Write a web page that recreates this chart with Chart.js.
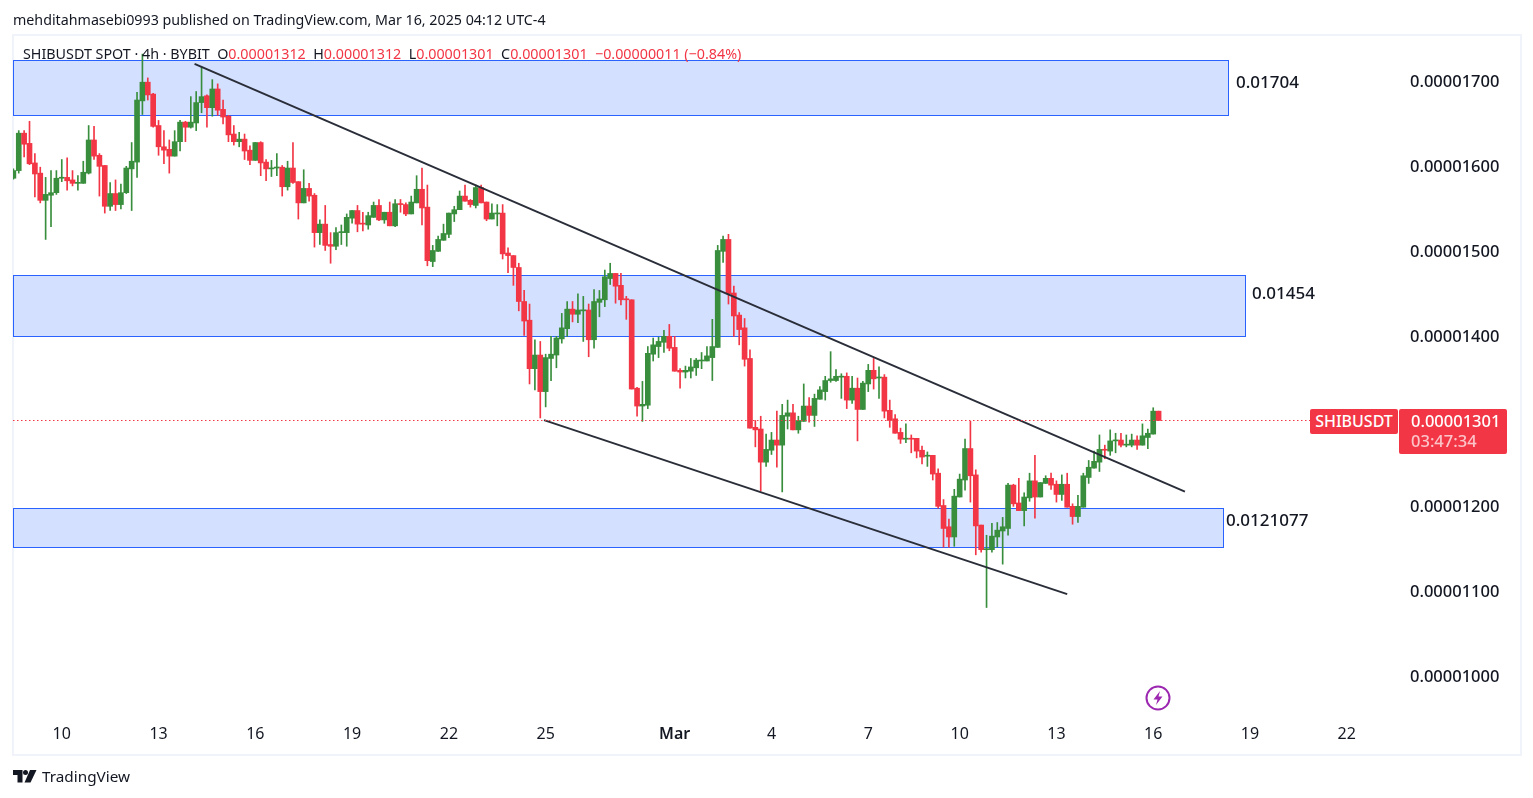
<!DOCTYPE html>
<html>
<head>
<meta charset="utf-8">
<title>SHIBUSDT 4h</title>
<script src="https://cdn.jsdelivr.net/npm/chart.js@4"></script>
<style>
body { margin: 0; background: #fff; font-family: "Noto Sans", sans-serif; color: #131722; }
#wrap { position: relative; width: 1533px; height: 798px; overflow: hidden; }
#frame { position: absolute; left: 12px; top: 34px; width: 1506px; height: 718px; border: 2px solid #f0f3fa; }
canvas { position: absolute; left: 0; top: 0; }
.t { position: absolute; white-space: pre; }
.r { color: #f23645; }
.tag { position: absolute; background: #f23645; color: #fff; border-radius: 2px; text-align: center; font-weight: 500; }
</style>
</head>
<body>
<div id="wrap">
  <div id="frame"></div>
  <canvas id="chart" width="1533" height="798"></canvas>
  <div class="t" style="left:13px;top:10px;font-size:14.25px;line-height:19px">mehditahmasebi0993 published on TradingView.com, Mar 16, 2025 04:12 UTC-4</div>
  <div class="t" style="left:23px;top:44px;font-size:14.3px;line-height:19px">SHIBUSDT SPOT · 4h · BYBIT  O<span class="r">0.00001312</span>  H<span class="r">0.00001312</span>  L<span class="r">0.00001301</span>  C<span class="r">0.00001301</span>  <span class="r">−0.00000011 (−0.84%)</span></div>
  <div class="t" style="left:1236px;top:71px;font-size:17px;line-height:22px;font-weight:500">0.01704</div>
  <div class="t" style="left:1252px;top:282px;font-size:17px;line-height:22px;font-weight:500">0.01454</div>
  <div class="t" style="left:1226px;top:509px;font-size:17px;line-height:22px;font-weight:500">0.0121077</div>
  <div class="tag" style="left:1310px;top:409px;width:88px;height:25px;line-height:25px;font-size:16px">SHIBUSDT</div>
  <div class="tag" style="left:1399px;top:409px;width:108px;height:45px;font-size:16.5px;line-height:20px;padding:2px 0 0 12px;box-sizing:border-box;text-align:left">0.00001301<br><span style="color:#fbc4c9">03:47:34</span></div>
  <svg style="position:absolute;left:1145px;top:685px" width="26" height="26" viewBox="0 0 26 26">
    <circle cx="13" cy="13" r="11.5" fill="#fff" stroke="#9c27b0" stroke-width="2"/>
    <path d="M15 6 L8.5 14.5 H12.5 L11 20 L17.5 11.5 H13.5 Z" fill="#9c27b0"/>
  </svg>
  <svg style="position:absolute;left:13px;top:770px" width="24" height="13" viewBox="0 0 24 13">
    <path d="M0 0 H9.5 V12.5 H4.5 V5 H0 Z" fill="#131722"/>
    <circle cx="12.5" cy="2.6" r="2.5" fill="#131722"/>
    <path d="M17 0 H23.5 L17.5 12.5 H11.5 Z" fill="#131722"/>
  </svg>
  <div class="t" style="left:42px;top:766px;font-size:15.3px;line-height:21px">TradingView</div>
</div>
<script>
// prices in units of 0.00000001
const opens = [
  1586,1595,1639,1627,1604,1592,1560,1566,1569,1586,
  1587,1584,1580,1580,1592,1631,1613,1601,1553,1568,
  1555,1569,1597,1605,1677,1699,1685,1648,1623,1620,
  1612,1629,1652,1646,1651,1675,1683,1669,1691,1667,
  1659,1638,1629,1632,1619,1607,1628,1605,1597,1598,
  1599,1576,1598,1582,1557,1574,1566,1522,1532,1508,
  1506,1522,1522,1539,1548,1533,1531,1540,1554,1537,
  1546,1530,1556,1555,1544,1557,1573,1552,1488,1500,
  1513,1520,1544,1549,1565,1560,1554,1575,1558,1538,
  1544,1545,1498,1495,1481,1441,1419,1362,1378,1335,
  1374,1378,1397,1409,1432,1426,1430,1431,1396,1440,
  1443,1468,1474,1460,1444,1443,1339,1318,1319,1379,
  1388,1393,1400,1387,1360,1358,1359,1363,1371,1371,
  1375,1387,1500,1514,1451,1425,1410,1374,1293,1291,
  1252,1266,1278,1272,1306,1310,1290,1300,1318,1307,
  1326,1335,1348,1348,1352,1353,1325,1339,1314,1344,
  1360,1351,1352,1313,1303,1287,1279,1280,1280,1266,
  1259,1260,1239,1201,1176,1164,1211,1231,1268,1237,
  1178,1149,1149,1164,1171,1174,1225,1204,1195,1210,
  1230,1211,1227,1233,1226,1214,1226,1200,1188,1199,
  1234,1245,1252,1267,1265,1277,1278,1272,1272,1278,
  1272,1281,1285,1312
];
const highs = [
  1597,1642,1642,1653,1615,1599,1587,1595,1595,1608,
  1610,1595,1589,1606,1648,1647,1615,1601,1581,1584,
  1579,1600,1628,1687,1732,1704,1686,1654,1642,1631,
  1642,1654,1653,1682,1688,1717,1684,1702,1697,1678,
  1660,1648,1640,1638,1624,1628,1629,1608,1607,1615,
  1601,1606,1628,1582,1596,1580,1568,1537,1554,1522,
  1528,1531,1544,1548,1554,1546,1546,1558,1561,1546,
  1558,1561,1561,1557,1565,1589,1598,1578,1507,1518,
  1532,1545,1553,1571,1578,1561,1578,1578,1558,1556,
  1555,1555,1504,1495,1486,1454,1438,1396,1394,1379,
  1400,1400,1427,1441,1441,1450,1447,1438,1455,1454,
  1478,1486,1474,1474,1447,1443,1340,1347,1388,1398,
  1399,1407,1414,1400,1362,1365,1374,1374,1381,1388,
  1420,1507,1518,1520,1459,1428,1421,1384,1301,1306,
  1285,1287,1312,1320,1325,1320,1306,1344,1328,1332,
  1341,1353,1382,1361,1356,1357,1353,1351,1347,1367,
  1374,1364,1355,1325,1308,1292,1297,1284,1280,1271,
  1264,1260,1244,1208,1185,1220,1238,1279,1300,1243,
  1178,1166,1180,1181,1187,1227,1226,1233,1216,1239,
  1260,1228,1236,1239,1230,1237,1239,1203,1213,1239,
  1254,1265,1284,1272,1290,1286,1286,1284,1285,1283,
  1297,1291,1316,1312
];
const lows = [
  1585,1592,1611,1602,1564,1557,1514,1529,1567,1582,
  1572,1577,1572,1580,1591,1608,1565,1545,1548,1548,
  1550,1568,1548,1587,1661,1678,1646,1613,1603,1592,
  1612,1618,1629,1645,1642,1663,1646,1659,1660,1650,
  1629,1625,1623,1608,1602,1607,1589,1583,1588,1589,
  1565,1572,1580,1538,1557,1559,1505,1508,1501,1486,
  1502,1508,1506,1533,1523,1524,1526,1540,1536,1533,
  1530,1529,1546,1542,1544,1557,1531,1483,1482,1500,
  1513,1516,1535,1549,1559,1552,1551,1557,1536,1538,
  1530,1491,1475,1460,1430,1401,1344,1337,1304,1317,
  1348,1363,1392,1400,1417,1416,1394,1376,1386,1423,
  1435,1461,1439,1437,1420,1338,1306,1300,1315,1371,
  1375,1381,1383,1359,1339,1351,1351,1354,1362,1371,
  1348,1387,1487,1438,1400,1390,1365,1292,1270,1218,
  1247,1261,1246,1217,1291,1290,1286,1300,1299,1294,
  1326,1325,1346,1347,1327,1315,1321,1277,1314,1335,
  1338,1327,1304,1293,1286,1274,1275,1263,1257,1250,
  1247,1231,1198,1152,1152,1153,1211,1219,1205,1143,
  1146,1081,1146,1152,1132,1166,1200,1195,1177,1206,
  1186,1211,1227,1220,1205,1207,1199,1179,1181,1199,
  1227,1245,1241,1256,1260,1263,1270,1270,1270,1267,
  1272,1268,1285,1301
];
const closes = [
  1595,1639,1626,1603,1591,1560,1567,1569,1586,1587,
  1583,1580,1581,1593,1631,1612,1600,1553,1568,1555,
  1569,1598,1606,1678,1699,1684,1647,1623,1619,1612,
  1629,1652,1646,1652,1675,1682,1669,1691,1666,1658,
  1637,1629,1632,1618,1607,1628,1604,1597,1598,1599,
  1576,1598,1581,1557,1574,1565,1522,1532,1507,1506,
  1522,1523,1540,1548,1532,1532,1542,1554,1537,1546,
  1530,1556,1555,1544,1558,1573,1551,1489,1501,1514,
  1521,1545,1549,1565,1559,1555,1575,1557,1538,1545,
  1545,1497,1495,1481,1441,1418,1362,1378,1335,1375,
  1379,1398,1410,1432,1426,1431,1431,1396,1441,1444,
  1470,1474,1459,1443,1443,1338,1318,1320,1380,1390,
  1394,1400,1386,1359,1358,1360,1364,1372,1372,1377,
  1388,1501,1514,1450,1424,1408,1373,1292,1290,1252,
  1267,1278,1272,1307,1310,1290,1301,1318,1307,1327,
  1337,1348,1350,1353,1353,1325,1339,1314,1345,1360,
  1350,1352,1312,1301,1286,1279,1280,1279,1265,1258,
  1260,1238,1200,1174,1164,1212,1232,1268,1236,1177,
  1149,1150,1165,1172,1176,1225,1203,1195,1211,1230,
  1211,1228,1233,1225,1214,1226,1199,1188,1200,1236,
  1246,1253,1267,1266,1277,1278,1272,1273,1278,1272,
  1283,1286,1312,1301
];

const tickIndexes = [9, 27, 45, 63, 81, 99, 123, 141, 159, 176, 194, 212, 230, 248];
const tickLabels = ['10', '13', '16', '19', '22', '25', 'Mar', '4', '7', '10', '13', '16', '19', '22'];
const priceTicks = [1000, 1100, 1200, 1300, 1400, 1500, 1600, 1700];

// support / resistance zones
const zoneEnds = [225.9, 229.0, 225.0];
const zoneTops = [1724.7, 1471.9, 1197.6];
const zoneBottoms = [1660, 1400, 1151.8];

// channel lines
const upperLineX = [33.7, 217.9];
const upperLineY = [1720.6, 1217.3];
const lowerLineX = [98.7, 196];
const lowerLineY = [1301.4, 1096.8];

const lastPrice = 1301;
const lastPriceX = [-0.07, 241.2];

const xMin = -0.07, xMax = 257.9;
const yMin = 952.2, yMax = 1754.5;

const green = '#388e3c', red = '#f23645';
const candleColors = opens.map((o, i) => closes[i] >= o ? green : red);

const zonesPlugin = {
    id: 'zones',
    beforeDatasetsDraw(chart) {
        const { ctx, scales: { x, y } } = chart;
        ctx.save();
        zoneEnds.forEach((end, i) => {
            const left = Math.round(x.getPixelForValue(xMin));
            const right = Math.round(x.getPixelForValue(end));
            const top = Math.round(y.getPixelForValue(zoneTops[i]));
            const bottom = Math.round(y.getPixelForValue(zoneBottoms[i]));
            ctx.fillStyle = 'rgba(41,98,255,0.2)';
            ctx.fillRect(left, top, right - left, bottom - top);
            ctx.strokeStyle = '#2962ff';
            ctx.lineWidth = 1;
            ctx.strokeRect(left + 0.5, top + 0.5, right - left, bottom - top);
        });
        ctx.restore();
    }
};

function line(xs, ys, color, width, dash) {
    return {
        type: 'line',
        data: xs.map((v, i) => ({ x: v, y: ys[i] })),
        borderColor: color,
        borderWidth: width,
        borderDash: dash || [],
        pointRadius: 0,
        order: 0
    };
}

new Chart(document.getElementById('chart'), {
    type: 'bar',
    data: {
        datasets: [
            {
                data: opens.map((o, i) => ({ x: i, y: [lows[i], highs[i]] })),
                backgroundColor: candleColors,
                barThickness: 1,
                grouped: false,
                order: 3
            },
            {
                data: opens.map((o, i) => ({ x: i, y: [o, closes[i]] })),
                backgroundColor: candleColors,
                barThickness: 5,
                minBarLength: 1,
                grouped: false,
                order: 2
            },
            line(lastPriceX, [lastPrice, lastPrice], red, 1, [1.5, 2.5]),
            line(upperLineX, upperLineY, '#2a2e39', 2),
            line(lowerLineX, lowerLineY, '#2a2e39', 2)
        ]
    },
    plugins: [zonesPlugin],
    options: {
        responsive: false,
        animation: false,
        layout: { padding: { left: 13, right: 13, top: 35, bottom: 44 } },
        plugins: { legend: { display: false }, tooltip: { enabled: false } },
        scales: {
            x: {
                type: 'linear',
                offset: false,
                min: xMin,
                max: xMax,
                grid: { display: false, drawTicks: false },
                border: { display: false },
                afterBuildTicks(scale) { scale.ticks = tickIndexes.map(v => ({ value: v })); },
                afterFit(scale) {
                    scale.height = 37;
                    scale.paddingLeft = 0;
                    scale.paddingRight = 0;
                },
                ticks: {
                    autoSkip: false,
                    maxRotation: 0,
                    padding: 8,
                    color: '#131722',
                    font: ctx => ({ family: 'Noto Sans', size: 16, weight: ctx.tick && ctx.tick.value === 123 ? '600' : '400' }),
                    callback: v => tickLabels[tickIndexes.indexOf(v)]
                }
            },
            y: {
                position: 'right',
                min: yMin,
                max: yMax,
                grid: { display: false, drawTicks: false },
                border: { display: false },
                afterBuildTicks(scale) { scale.ticks = priceTicks.map(v => ({ value: v })); },
                afterFit(scale) {
                    scale.width = 120;
                    scale.paddingTop = 0;
                    scale.paddingBottom = 0;
                },
                ticks: {
                    autoSkip: false,
                    crossAlign: 'near',
                    padding: 10,
                    labelOffset: 1,
                    color: '#131722',
                    font: { family: 'Noto Sans', size: 16.5, weight: '500' },
                    callback: v => (v / 1e8).toFixed(8)
                }
            }
        }
    }
});
</script>
</body>
</html>
